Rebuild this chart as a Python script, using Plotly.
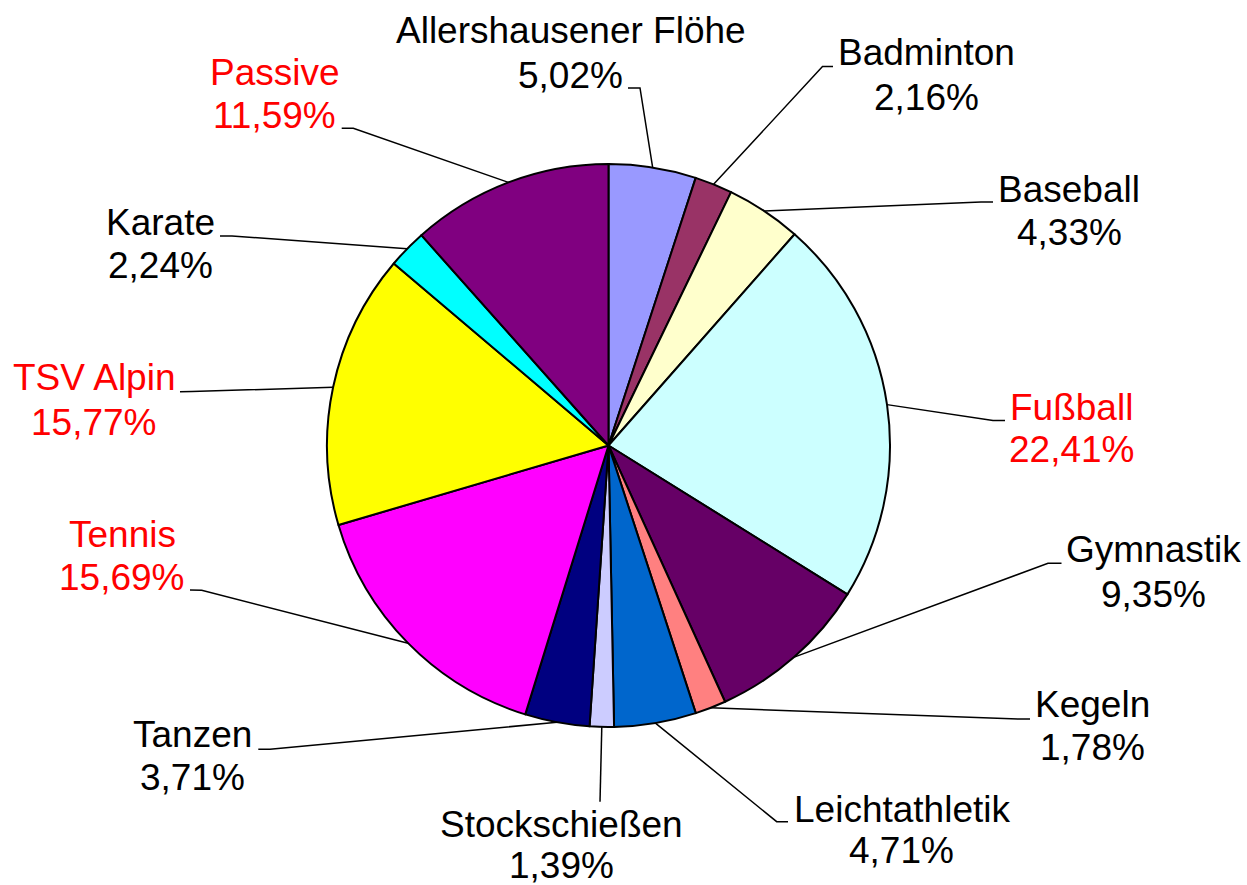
import math
import plotly.graph_objects as go

W, H = 1247, 885

# ---- data ----
categories = ["Allershausener Flöhe", "Badminton", "Baseball", "Fußball", "Gymnastik",
              "Kegeln", "Leichtathletik", "Stockschießen", "Tanzen", "Tennis",
              "TSV Alpin", "Karate", "Passive"]
shares = [5.02, 2.16, 4.33, 22.41, 9.35, 1.78, 4.71, 1.39, 3.71, 15.69, 15.77, 2.24, 11.59]
slice_colors = ["#9999FF", "#993366", "#FFFFCC", "#CCFFFF", "#660066", "#FF8080", "#0066CC",
                "#CCCCFF", "#000080", "#FF00FF", "#FFFF00", "#00FFFF", "#800080"]
highlighted = ["Fußball", "Tennis", "TSV Alpin", "Passive"]

# ---- layout (pixels) ----
CX, CY, R = 608.5, 445.5, 281.5
FS = 37
# label centre x, baseline line 1, baseline line 2
label_pos = [(570.5, 43, 88), (926.5, 65, 110), (1069, 202, 245), (1071.5, 420, 462),
             (1153, 562, 607), (1092.5, 717, 760), (901.5, 822, 863), (561.5, 837, 878),
             (192.5, 747, 790), (122, 547, 590), (93.5, 390, 435), (160, 235, 278),
             (274.5, 85, 128)]
# leader start (near text) and elbow
leader_pts = [((628, 88), (640, 88)), ((833, 66.5), (822.5, 66.5)), ((993, 202), (981, 202)),
              ((1005, 420.5), (993, 420.5)), ((1061.5, 563.3), (1048, 563.3)),
              ((1030, 719), (1018, 719)), ((788, 821.7), (776.7, 821.7)),
              ((600, 801.7), (600, 801.7)), ((258.3, 749.3), (270, 749.3)),
              ((190, 590), (201.7, 590.3)), ((180, 391.7), (192, 391.5)),
              ((220, 236), (232, 236)), ((341.7, 128.3), (353.3, 128.3))]


def px(x):
    return x / W


def py(y):
    return 1 - y / H


fig = go.Figure(go.Pie(
    labels=categories, values=shares, sort=False, direction="clockwise", rotation=0,
    marker=dict(colors=slice_colors, line=dict(color="black", width=2)),
    textinfo="none", hoverinfo="label+percent", showlegend=False,
    domain=dict(x=[px(CX - R), px(CX + R)], y=[py(CY + R), py(CY - R)]),
))

total = sum(shares)
cum = 0.0
annotations = []
shapes = []
for i, (name, v) in enumerate(zip(categories, shares)):
    mid = (cum + v / 2) / total
    cum += v
    ang = 2 * math.pi * mid
    ex = CX + R * math.sin(ang)
    ey = CY - R * math.cos(ang)
    (sx, sy), (bx, by) = leader_pts[i]
    shapes.append(dict(type="path", xref="paper", yref="paper",
                       path=f"M {px(sx)} {py(sy)} L {px(bx)} {py(by)} L {px(ex)} {py(ey)}",
                       line=dict(color="black", width=1.5)))
    col = "#FF0000" if name in highlighted else "black"
    cx, b1, b2 = label_pos[i]
    pct = f"{v:.2f}".replace(".", ",") + "%"
    for txt, b in ((name, b1), (pct, b2)):
        annotations.append(dict(text=txt, x=px(cx), y=py(b - 0.3465 * FS), xref="paper", yref="paper",
                                xanchor="center", yanchor="middle", showarrow=False,
                                font=dict(family="Liberation Sans, Arial", size=FS, color=col)))

fig.update_layout(width=W, height=H, margin=dict(l=0, r=0, t=0, b=0),
                  paper_bgcolor="white", plot_bgcolor="white",
                  annotations=annotations, shapes=shapes)

fig.write_html("out.html", config={"displayModeBar": False},
               post_script="document.body.style.margin='0px';document.body.style.padding='0px';")
